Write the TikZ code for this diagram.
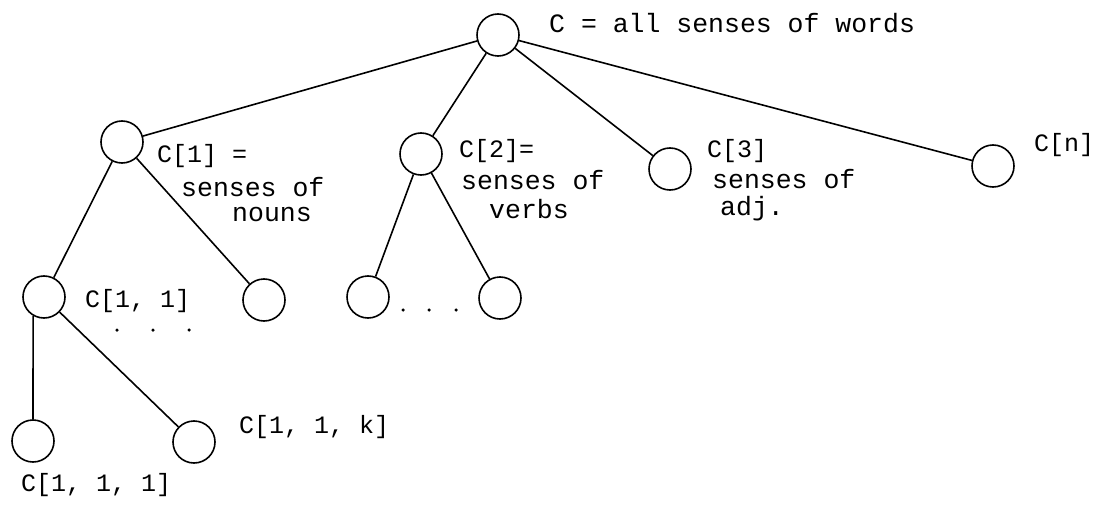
\documentclass[tikz,border=0pt]{standalone}
\usepackage{fontspec}
\setmainfont{Liberation Mono}
\begin{document}
\begin{tikzpicture}[x=1pt,y=-1pt,
  vtx/.style={circle,draw,line width=1.6pt,minimum size=42pt,inner sep=0pt},
  lbl/.style={anchor=west,inner sep=0pt,font=\fontsize{26.5}{28}\selectfont},
  idx/.style={anchor=west,inner sep=0pt,font=\fontsize{25}{27}\selectfont},
  edge/.style={line width=1.6pt},
  dot/.style={circle,fill,inner sep=0pt,minimum size=3.5pt}]
\useasboundingbox (0,0) rectangle (1111,508);
% vertices
\node[vtx] (r) at (498,35) {};
\node[vtx] (c1) at (122,142) {};
\node[vtx] (c2) at (421,154) {};
\node[vtx] (c3) at (670,169) {};
\node[vtx] (cn) at (993,166) {};
\node[vtx] (c11) at (44,297) {};
\node[vtx] (c12) at (264,300) {};
\node[vtx] (c21) at (368,297) {};
\node[vtx] (c22) at (500,298) {};
\node[vtx] (c111) at (33,441) {};
\node[vtx] (c11k) at (194,442) {};
% edges
\draw[edge] (r) -- (c1);
\draw[edge] (r) -- (c2);
\draw[edge] (r) -- (c3);
\draw[edge] (r) -- (cn);
\draw[edge] (c1) -- (c11);
\draw[edge] (c1) -- (c12);
\draw[edge] (c2) -- (c21);
\draw[edge] (c2) -- (c22);
\draw[edge] (c11.240) -- (c111.north);
\draw[edge] (c11) -- (c11k);
% labels
\node[lbl] (tr) at (549,23) {C = all senses of words};
\node[idx] (t1a) at (157,156) {C[1] =};
\node[lbl] (t1b) at (181,187) {senses of};
\node[lbl] (t1c) at (232,214) {nouns};
\node[idx] (t2a) at (459,151) {C[2]=};
\node[lbl] (t2b) at (461,180) {senses of};
\node[lbl] (t2c) at (489,209) {verbs};
\node[idx] (t3a) at (707,151) {C[3]};
\node[lbl] (t3b) at (712,179) {senses of};
\node[lbl] (t3c) at (720,209) {adj.};
\node[idx] (tn) at (1034,145) {C[n]};
\node[idx] (t11) at (85,301) {C[1, 1]};
\node[idx] (t11k) at (239,427) {C[1, 1, k]};
\node[idx] (t111) at (21,485) {C[1, 1, 1]};
% ellipsis dots
\node[dot] (d1) at (117,330) {};
\node[dot] (d2) at (153,330) {};
\node[dot] (d3) at (189,330) {};
\node[dot] (e1) at (403,310) {};
\node[dot] (e2) at (429,310) {};
\node[dot] (e3) at (456,310) {};
\end{tikzpicture}
\end{document}
